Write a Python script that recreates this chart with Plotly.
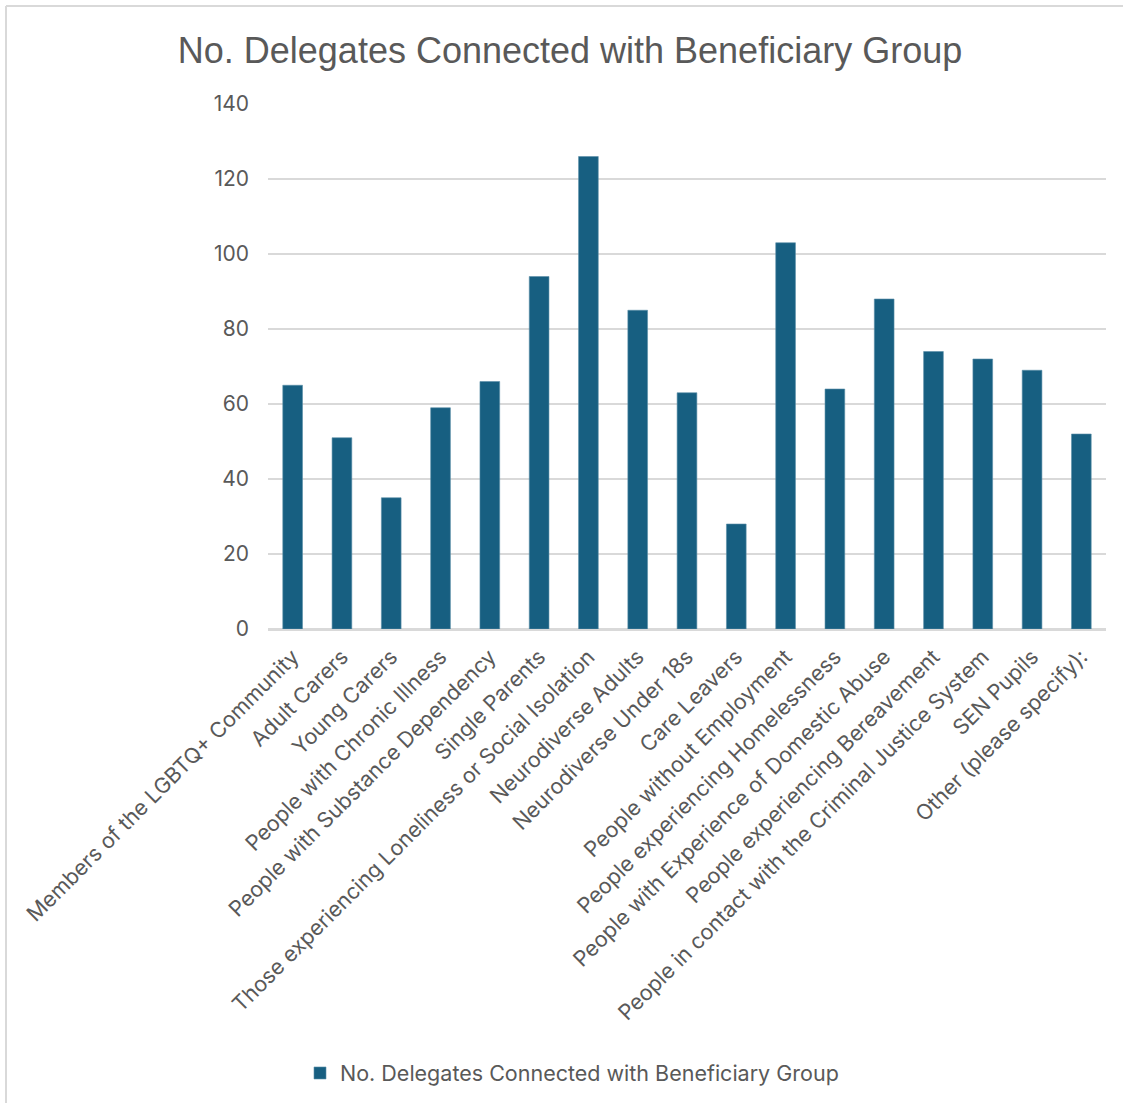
import plotly.graph_objects as go

categories = [
    "Members of the LGBTQ+ Community",
    "Adult Carers",
    "Young Carers",
    "People with Chronic Illness",
    "People with Substance Dependency",
    "Single Parents",
    "Those experiencing Loneliness or Social Isolation",
    "Neurodiverse Adults",
    "Neurodiverse Under 18s",
    "Care Leavers",
    "People without Employment",
    "People experiencing Homelessness",
    "People with Experience of Domestic Abuse",
    "People experiencing Bereavement",
    "People in contact with the Criminal Justice System",
    "SEN Pupils",
    "Other (please specify):",
]
values = [65, 51, 35, 59, 66, 94, 126, 85, 63, 28, 103, 64, 88, 74, 72, 69, 52]
series_name = "No. Delegates Connected with Beneficiary Group"
y_ticks = [0, 20, 40, 60, 80, 100, 120, 140]

W, H = 1123, 1103
L, R, T, B = 268, 1106, 104, 629
pw, ph = R - L, B - T

def px_x(p):
    return (p - L) / pw

def px_y(p):
    return (B - p) / ph

FONT = "Inter, Liberation Sans, Arial, sans-serif"
TFONT = "Liberation Sans, Arial, sans-serif"
GRAY = "#595959"

fig = go.Figure(
    go.Bar(
        x=categories,
        y=values,
        name=series_name,
        marker=dict(color="#175f81", line=dict(color="#5a8fa8", width=0.6)),
        showlegend=True,
    )
)

fig.update_layout(
    width=W,
    height=H,
    margin=dict(l=L, r=W - R, t=T, b=H - B, autoexpand=False),
    paper_bgcolor="white",
    plot_bgcolor="white",
    bargap=0.6,
    font=dict(family=FONT, color=GRAY),
    title=dict(
        text=series_name,
        x=570 / W,
        xanchor="center",
        y=1 - 50 / H,
        yanchor="middle",
        font=dict(family=TFONT, size=36, color=GRAY),
    ),
    xaxis=dict(
        tickangle=-45,
        tickfont=dict(family=FONT, size=21.5, color=GRAY),
        showgrid=False,
        showline=True,
        linecolor="#d9d9d9",
        linewidth=1.5,
        ticks="",
        ticklabelstandoff=5,
    ),
    yaxis=dict(
        range=[0, 140],
        tickvals=y_ticks,
        tickfont=dict(family=FONT, size=21, color=GRAY),
        showgrid=True,
        gridcolor="#d9d9d9",
        gridwidth=1.5,
        zeroline=True,
        zerolinecolor="#d9d9d9",
        zerolinewidth=1.5,
        showline=False,
        ticks="",
        ticklabelstandoff=18,
    ),
    legend=dict(
        orientation="h",
        x=px_x(572),
        xanchor="center",
        y=px_y(1073),
        yanchor="middle",
        font=dict(family=FONT, size=21.5, color=GRAY),
    ),
    shapes=[
        dict(type="line", xref="paper", yref="paper",
             x0=px_x(6), x1=px_x(6), y0=px_y(6), y1=px_y(1110),
             line=dict(color="#d9d9d9", width=2)),
        dict(type="line", xref="paper", yref="paper",
             x0=px_x(6), x1=px_x(1130), y0=px_y(6), y1=px_y(6),
             line=dict(color="#d9d9d9", width=2)),
    ],
)

fig.write_html("out.html")
